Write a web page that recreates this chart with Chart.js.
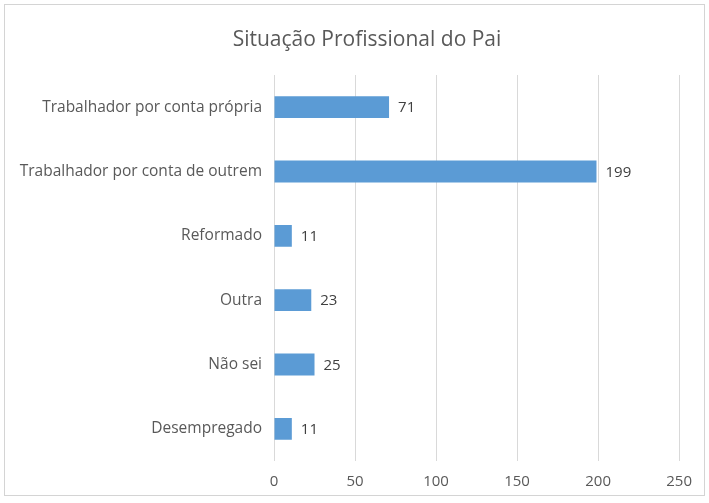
<!DOCTYPE html>
<html>
<head>
<meta charset="utf-8">
<script src="https://cdn.jsdelivr.net/npm/chart.js@4"></script>
<style>
    body { margin: 0; background: #fff; }
    #wrap {
        position: absolute; left: 4px; top: 4px;
        width: 699px; height: 490px;
        border: 1px solid #d4d4d4;
    }
</style>
</head>
<body>
<div id="wrap"><canvas id="chart" width="699" height="490"></canvas></div>
<script>
// ---- Data ----
const categories = [
    'Trabalhador por conta própria',
    'Trabalhador por conta de outrem',
    'Reformado',
    'Outra',
    'Não sei',
    'Desempregado'
];
const counts = [71, 199, 11, 23, 25, 11];
const xTicks = [0, 50, 100, 150, 200, 250];

const chartTitle = 'Situação Profissional do Pai';
const fontFamily = '"Open Sans", Lato, sans-serif';

// ---- Plugin: title + value labels ----
const labelsPlugin = {
    id: 'labels',
    afterDatasetsDraw(chart) {
        const ctx = chart.ctx;
        ctx.save();
        ctx.fillStyle = '#595959';
        ctx.font = '21px ' + fontFamily;
        ctx.textAlign = 'center';
        ctx.textBaseline = 'middle';
        ctx.fillText(chartTitle, 362, 35);

        const meta = chart.getDatasetMeta(0);
        ctx.fillStyle = '#404040';
        ctx.font = '15px ' + fontFamily;
        ctx.textAlign = 'left';
        meta.data.forEach((bar, i) => {
            ctx.fillText(String(counts[i]), bar.x + 9, bar.y + 1);
        });
        ctx.restore();
    }
};

new Chart(document.getElementById('chart'), {
    type: 'bar',
    data: {
        labels: categories,
        datasets: [{
            data: counts,
            backgroundColor: '#5b9bd5',
            borderWidth: 0,
            categoryPercentage: 1,
            barPercentage: 0.34
        }]
    },
    options: {
        indexAxis: 'y',
        responsive: false,
        animation: false,
        layout: { padding: { top: 70, right: 24, left: 0, bottom: 0 } },
        plugins: {
            legend: { display: false },
            tooltip: { enabled: false }
        },
        scales: {
            x: {
                min: 0,
                max: 250,
                afterBuildTicks: (scale) => { scale.ticks = xTicks.map(v => ({ value: v })); },
                afterFit: (scale) => { scale.height = 34; },
                grid: { color: '#d9d9d9', drawTicks: false },
                border: { display: false },
                ticks: { color: '#595959', font: { family: fontFamily, size: 15 }, padding: 12 }
            },
            y: {
                afterFit: (scale) => { scale.width = 269; },
                grid: { display: false, drawTicks: false },
                border: { display: false },
                ticks: { color: '#595959', font: { family: fontFamily, size: 15.5 }, padding: 12 }
            }
        }
    },
    plugins: [labelsPlugin]
});
</script>
</body>
</html>
